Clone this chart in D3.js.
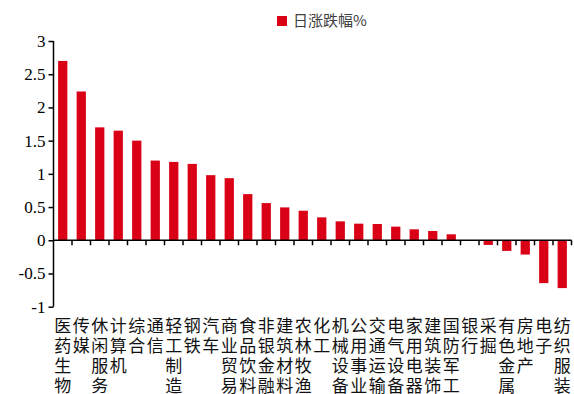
<!DOCTYPE html>
<html>
<head>
<meta charset="utf-8">
<script src="https://cdn.jsdelivr.net/npm/d3@7"></script>
<style>
  body { margin: 0; background: #fff; }
  svg { display: block; }
  .yax text { font-family: "Liberation Serif", "DejaVu Serif", serif; font-size: 17px; }
</style>
</head>
<body>
<div id="vis"></div>
<script>
const svgWidth = 574;
const svgHeight = 394;

// industries, sorted by daily change
const industries = [
  '医药生物', '传媒', '休闲服务', '计算机', '综合', '通信', '轻工制造', '钢铁',
  '汽车', '商业贸易', '食品饮料', '非银金融', '建筑材料', '农林牧渔', '化工', '机械设备',
  '公用事业', '交通运输', '电气设备', '家用电器', '建筑装饰', '国防军工', '银行', '采掘',
  '有色金属', '房地产', '电子', '纺织服装'
];
const dailyChange = [
  2.70, 2.24, 1.70, 1.65, 1.50, 1.20, 1.18, 1.15,
  0.98, 0.935, 0.695, 0.56, 0.495, 0.445, 0.345, 0.285,
  0.25, 0.245, 0.205, 0.165, 0.14, 0.09, 0.0, -0.07,
  -0.16, -0.215, -0.645, -0.72
];
const yTicks = [-1, -0.5, 0, 0.5, 1, 1.5, 2, 2.5, 3];
const legendLabel = '日涨跌幅%';

const data = industries.map((name, i) => ({ name, value: dailyChange[i] }));

const svg = d3.select('#vis').append('svg').attr('width', svgWidth).attr('height', svgHeight);

const x = d3.scaleBand().domain(industries).range([53.5, 571.5]).paddingInner(0.5).paddingOuter(0.25);
const y = d3.scaleLinear().domain([-1, 3]).range([306.7, 41]);

// bars
svg.append('g')
  .selectAll('rect')
  .data(data)
  .join('rect')
  .attr('x', (d) => x(d.name))
  .attr('width', x.bandwidth())
  .attr('y', (d) => y(Math.max(0, d.value)))
  .attr('height', (d) => Math.abs(y(d.value) - y(0)))
  .attr('fill', '#da0016');

// y axis
const yAxis = d3.axisLeft(y).tickValues(yTicks).tickSize(5).tickPadding(3).tickFormat((d) => String(d));
const yg = svg.append('g').attr('class', 'yax').attr('transform', 'translate(53.5,0)').call(yAxis);
yg.attr('font-family', null).attr('font-size', null);
yg.select('.domain').attr('stroke', '#000').attr('stroke-width', 1.5).attr('d', `M0,${y(3)}V${y(-1)}`);
yg.selectAll('.tick line').attr('stroke', '#000').attr('stroke-width', 1.5);
yg.selectAll('.tick text').attr('fill', '#000');

// zero line with category ticks at band boundaries
const step = x.step();
const x0 = x.range()[0];
const boundaries = d3.range(1, industries.length + 1).map((i) => x0 + i * step);
const xg = svg.append('g');
xg.append('line')
  .attr('x1', x0).attr('x2', x.range()[1])
  .attr('y1', y(0)).attr('y2', y(0))
  .attr('stroke', '#000').attr('stroke-width', 1.5);
xg.selectAll('line.tk')
  .data(boundaries)
  .join('line')
  .attr('class', 'tk')
  .attr('x1', (d) => d).attr('x2', (d) => d)
  .attr('y1', y(0)).attr('y2', y(0) + 5)
  .attr('stroke', '#000').attr('stroke-width', 1.5);

// category labels, one character per row
const labels = svg.append('g')
  .style('font-family', '"Noto Sans CJK SC", sans-serif')
  .style('font-size', '17px')
  .attr('fill', '#111');
data.forEach((d) => {
  const cx = x(d.name) + x.bandwidth() / 2;
  Array.from(d.name).forEach((ch, j) => {
    labels.append('text')
      .attr('text-anchor', 'middle')
      .attr('x', cx)
      .attr('y', 332 + j * 20)
      .text(ch);
  });
});

// legend
const legend = svg.append('g').attr('transform', 'translate(277,16)');
legend.append('rect').attr('width', 10).attr('height', 10).attr('fill', '#da0016');
legend.append('text')
  .attr('x', 16).attr('y', 10)
  .attr('fill', '#404040')
  .style('font-family', '"Noto Sans CJK SC", sans-serif')
  .style('font-size', '15px')
  .text(legendLabel);
</script>
</body>
</html>
